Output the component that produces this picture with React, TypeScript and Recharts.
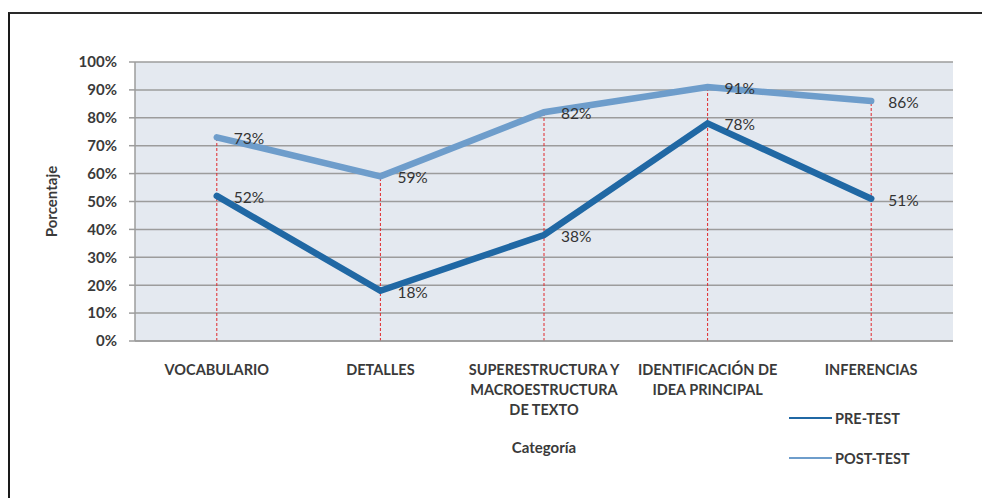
import React from 'react';
import { LineChart, Line, XAxis, YAxis, CartesianGrid, ReferenceLine, LabelList, Legend } from 'recharts';

const categories = [
  'VOCABULARIO',
  'DETALLES',
  'SUPERESTRUCTURA Y\nMACROESTRUCTURA\nDE TEXTO',
  'IDENTIFICACIÓN DE\nIDEA PRINCIPAL',
  'INFERENCIAS',
];
const preTest = [52, 18, 38, 78, 51];
const postTest = [73, 59, 82, 91, 86];
const yTicks = [0, 10, 20, 30, 40, 50, 60, 70, 80, 90, 100];
const seriesOrder = ['pre', 'post'];

const PRE_COLOR = '#2068a4';
const POST_COLOR = '#6e9dcb';
const FONT = 'Lato, "Open Sans", sans-serif';
const TEXT = '#3a3a3a';

const data = categories.map((c, i) => ({ cat: c, pre: preTest[i], post: postTest[i] }));

const XTick = (props: any) => {
  const { x, y, payload } = props;
  const lines = String(payload.value).split('\n');
  return (
    <text x={x} y={y} textAnchor="middle" fill={TEXT} fontFamily={FONT} fontSize={14.5} fontWeight={700}>
      {lines.map((l, i) => (
        <tspan key={i} x={x} dy={i === 0 ? 26 : 20}>{l}</tspan>
      ))}
    </text>
  );
};

const makeLabel = (dyOff: number) => (props: any) => {
  const { x, y, value } = props;
  return (
    <text x={x + 17} y={y + dyOff} dominantBaseline="central" fill="#333" fontFamily={FONT} fontSize={15.5}>
      {`${value}%`}
    </text>
  );
};

const LegendContent = (props: any) => {
  const payload = [...(props.payload || [])].sort(
    (a: any, b: any) => seriesOrder.indexOf(a.dataKey) - seriesOrder.indexOf(b.dataKey)
  );
  return (
    <div style={{ fontFamily: FONT }}>
      {payload.map((p: any, i: number) => (
        <div key={i} style={{ display: 'flex', alignItems: 'center', height: 40 }}>
          <div style={{ width: 43, height: 2, background: p.color, marginRight: 3 }} />
          <span style={{ fontSize: 14.5, fontWeight: 700, color: TEXT }}>{p.value}</span>
        </div>
      ))}
    </div>
  );
};

export default function App() {
  return (
    <div style={{ position: 'absolute', left: 0, top: 0, width: 982, height: 498, background: '#fff', overflow: 'hidden' }}>
      <div style={{ position: 'absolute', left: 8, top: 12, width: 990, height: 500, borderTop: '2px solid #2a2a2a', borderLeft: '2px solid #1a1a1a' }} />
      <LineChart width={982} height={498} data={data} margin={{ top: 62, right: 29, bottom: 0, left: 0 }}>
        <CartesianGrid vertical={false} stroke="#9c9c9c" strokeWidth={1.5} fill="#e4e9f0" />
        <XAxis
          dataKey="cat"
          scale="band"
          tickLine={false}
          axisLine={{ stroke: '#9c9c9c', strokeWidth: 1.5 }}
          height={157}
          interval={0}
          tick={<XTick />}
          label={{ value: 'Categoría', position: 'insideTop', offset: 101, fill: TEXT, fontFamily: FONT, fontSize: 15, fontWeight: 700 }}
        />
        <YAxis
          domain={[0, 100]}
          ticks={yTicks}
          width={135}
          tickSize={6}
          tickMargin={12}
          interval={0}
          tickFormatter={(v: number) => `${v}%`}
          tickLine={{ stroke: '#9c9c9c', strokeWidth: 1.5 }}
          axisLine={{ stroke: '#9c9c9c', strokeWidth: 1.5 }}
          tick={{ fill: TEXT, fontFamily: FONT, fontSize: 15, fontWeight: 700 }}
          label={{ value: 'Porcentaje', angle: -90, position: 'insideLeft', offset: 52, fill: TEXT, fontFamily: FONT, fontSize: 15, fontWeight: 700, style: { textAnchor: 'middle' } }}
        />
        {data.map((d, i) => (
          <ReferenceLine
            key={i}
            segment={[{ x: d.cat, y: 0 }, { x: d.cat, y: Math.max(d.pre, d.post) }]}
            stroke="#e0282c"
            strokeDasharray="3 2"
            strokeWidth={1}
          />
        ))}
        <Legend
          layout="vertical"
          align="center"
          verticalAlign="middle"
          wrapperStyle={{ left: 789, top: 398, width: 150 }}
          content={<LegendContent />}
        />
        <Line
          name="PRE-TEST"
          dataKey="pre"
          stroke={PRE_COLOR}
          strokeWidth={6.5}
          dot={false}
          activeDot={false}
          strokeLinecap="round"
          isAnimationActive={false}
        >
          <LabelList dataKey="pre" content={makeLabel(1)} />
        </Line>
        <Line
          name="POST-TEST"
          dataKey="post"
          stroke={POST_COLOR}
          strokeWidth={6.5}
          dot={false}
          activeDot={false}
          strokeLinecap="round"
          isAnimationActive={false}
        >
          <LabelList dataKey="post" content={makeLabel(1)} />
        </Line>
      </LineChart>
    </div>
  );
}
